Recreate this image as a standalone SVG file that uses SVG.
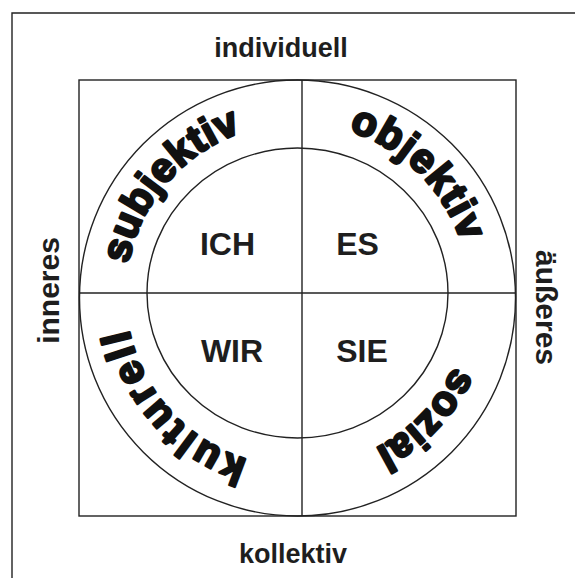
<svg xmlns="http://www.w3.org/2000/svg" xmlns:xlink="http://www.w3.org/1999/xlink" width="575" height="578" viewBox="0 0 575 578">
  <style>
    .ln { fill: none; stroke: #222; stroke-width: 1.4; }
    .side { font-family: "Liberation Sans", Arial, sans-serif; font-weight: bold; font-size: 27px; fill: #1e1e1e; text-anchor: middle; }
    .vside { font-size: 30px; }
    .quad { font-family: "Liberation Sans", Arial, sans-serif; font-weight: bold; font-size: 32px; fill: #1e1e1e; text-anchor: middle; }
    .ring { font-family: "Liberation Sans", Arial, sans-serif; font-weight: bold; font-size: 41px; fill: #111; stroke: #111; stroke-width: 2.6; stroke-linejoin: round; text-anchor: middle; }
  </style>
  <defs>
    <path id="ringPath" d="M 125.5,295 A 172 172 0 1 1 469.5,295 A 172 172 0 1 1 125.5,295"/>
  </defs>
  <rect width="575" height="578" fill="#fff"/>
  <g id="frame">
    <path class="ln" d="M 12,578 L 12,13 L 575,13" stroke-width="1.6"/>
  </g>
  <g id="connectors">
    <rect class="ln" x="79" y="80" width="437" height="436"/>
    <line class="ln" x1="302" y1="80" x2="302" y2="516"/>
    <line class="ln" x1="79" y1="293" x2="516" y2="293"/>
    <circle class="ln" cx="297.5" cy="298" r="218"/>
    <ellipse class="ln" cx="297.5" cy="293" rx="150.5" ry="145"/>
  </g>
  <g id="axis-labels">
    <text class="side" x="281" y="57">individuell</text>
    <text class="side" x="293" y="563">kollektiv</text>
    <text class="side vside" transform="translate(59,290.5) rotate(-90)">inneres</text>
    <text class="side vside" transform="translate(536,307.5) rotate(90)">äußeres</text>
  </g>
  <g id="node-ich"><text class="quad" x="227.5" y="255">ICH</text></g>
  <g id="node-es"><text class="quad" x="357.5" y="255">ES</text></g>
  <g id="node-wir"><text class="quad" x="232" y="362">WIR</text></g>
  <g id="node-sie"><text class="quad" x="362" y="362">SIE</text></g>
  <g id="ring-subjektiv"><text class="ring"><textPath xlink:href="#ringPath" href="#ringPath" startOffset="122" textLength="182" lengthAdjust="spacing">subjektiv</textPath></text></g>
  <g id="ring-objektiv"><text class="ring"><textPath xlink:href="#ringPath" href="#ringPath" startOffset="404" textLength="164" lengthAdjust="spacing">objektiv</textPath></text></g>
  <g id="ring-sozial"><text class="ring"><textPath xlink:href="#ringPath" href="#ringPath" startOffset="672" textLength="116" lengthAdjust="spacing">sozial</textPath></text></g>
  <g id="ring-kulturell"><text class="ring"><textPath xlink:href="#ringPath" href="#ringPath" startOffset="953" textLength="185" lengthAdjust="spacing">kulturell</textPath></text></g>
</svg>
